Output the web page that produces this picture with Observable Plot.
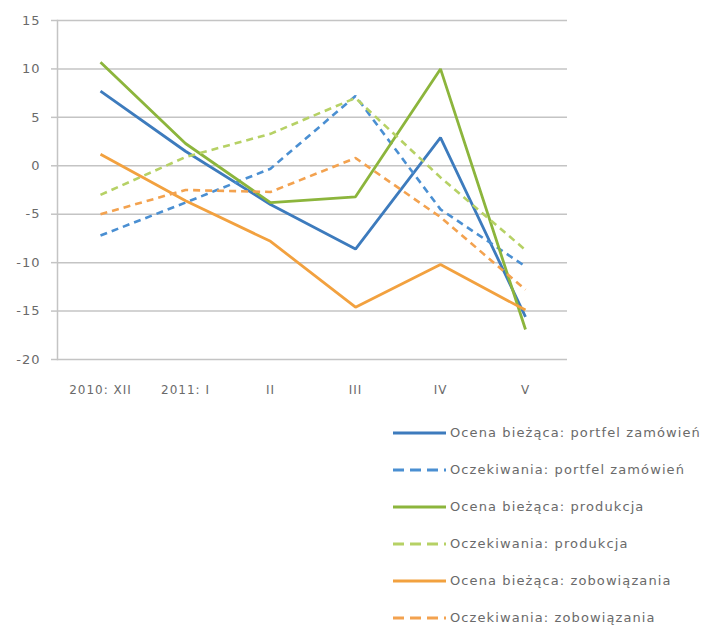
<!DOCTYPE html>
<html><head><meta charset="utf-8">
<script src="https://cdn.jsdelivr.net/npm/d3@7"></script>
<script src="https://cdn.jsdelivr.net/npm/@observablehq/plot@0.6"></script>
<style>
body{margin:0;background:#fff;font-family:"DejaVu Sans",sans-serif;}
#wrap{position:relative;width:710px;height:626px;overflow:hidden;}
#legend{position:absolute;left:393px;top:414px;color:#6a6a6a;font-size:13px;letter-spacing:1.1px;}
.row{height:37px;display:flex;align-items:center;white-space:nowrap;}
.row svg{margin-right:4px;}
</style></head>
<body><div id="wrap"><div id="chart"></div><div id="legend"></div></div>
<script>
const categories = ["2010: XII", "2011: I", "II", "III", "IV", "V"];
const seriesNames = [
  "Ocena bieżąca: portfel zamówień",
  "Oczekiwania: portfel zamówień",
  "Ocena bieżąca: produkcja",
  "Oczekiwania: produkcja",
  "Ocena  bieżąca: zobowiązania",
  "Oczekiwania: zobowiązania"
];
const ocenaPortfel = [7.7, 1.5, -4.0, -8.6, 2.9, -15.6];
const oczekPortfel = [-7.2, -3.8, -0.3, 7.2, -4.5, -10.4];
const ocenaProdukcja = [10.7, 2.3, -3.8, -3.2, 10.0, -16.9];
const oczekProdukcja = [-3.0, 0.9, 3.3, 7.0, -1.2, -8.7];
const ocenaZobow = [1.2, -3.6, -7.8, -14.6, -10.2, -14.9];
const oczekZobow = [-5.0, -2.5, -2.7, 0.8, -5.3, -12.8];
const yTicks = [15, 10, 5, 0, -5, -10, -15, -20];

const seriesValues = [ocenaPortfel, oczekPortfel, ocenaProdukcja, oczekProdukcja, ocenaZobow, oczekZobow];
const colors = ["#3d7bbd", "#4a8fd2", "#8cb53c", "#b6d165", "#f2a13f", "#f3a24f"];
const dashed = [false, true, false, true, false, true];

const data = [];
seriesValues.forEach((vals, s) => vals.forEach((v, i) => data.push({series: seriesNames[s], cat: categories[i], value: v})));

const lineMarks = seriesNames.map((name, s) => Plot.line(data.filter(d => d.series === name), {
  x: "cat", y: "value", stroke: colors[s], strokeWidth: dashed[s] ? 2.6 : 2.8,
  strokeDasharray: dashed[s] ? "7,5" : null, strokeLinejoin: "miter", strokeLinecap: "butt"
}));

const chart = Plot.plot({
  width: 710, height: 402,
  marginLeft: 57, marginRight: 143, marginTop: 20, marginBottom: 43,
  style: {fontFamily: "DejaVu Sans, sans-serif", fontSize: "12px", color: "#6a6a6a", letterSpacing: "1px"},
  x: {domain: categories, type: "point", padding: 0.5, label: null},
  y: {domain: [-20, 15], label: null},
  marks: [
    Plot.gridY(yTicks, {stroke: "#c4c4c4", strokeOpacity: 1, strokeWidth: 1.5}),
    Plot.axisY(yTicks, {tickSize: 6, tickPadding: 11, stroke: "#c4c4c4", strokeWidth: 1.5, tickFormat: d => String(d), fill: "#6a6a6a", fontSize: 13, label: null}),
    Plot.axisX({tickSize: 0, tickPadding: 26, fill: "#6a6a6a", fontSize: 12, label: null}),
    Plot.frame({anchor: "left", stroke: "#c4c4c4", strokeWidth: 1.5}),
    ...lineMarks
  ]
});
document.getElementById("chart").appendChild(chart);

const legend = document.getElementById("legend");
seriesNames.forEach((name, s) => {
  const row = document.createElement("div");
  row.className = "row";
  const sw = d3.create("svg").attr("width", 53).attr("height", 10);
  sw.append("line").attr("x1", 0).attr("x2", 53).attr("y1", 5).attr("y2", 5)
    .attr("stroke", colors[s]).attr("stroke-width", 3)
    .attr("stroke-dasharray", dashed[s] ? "11,6" : null);
  row.appendChild(sw.node());
  const t = document.createElement("span");
  t.textContent = name;
  row.appendChild(t);
  legend.appendChild(row);
});
</script></body></html>
